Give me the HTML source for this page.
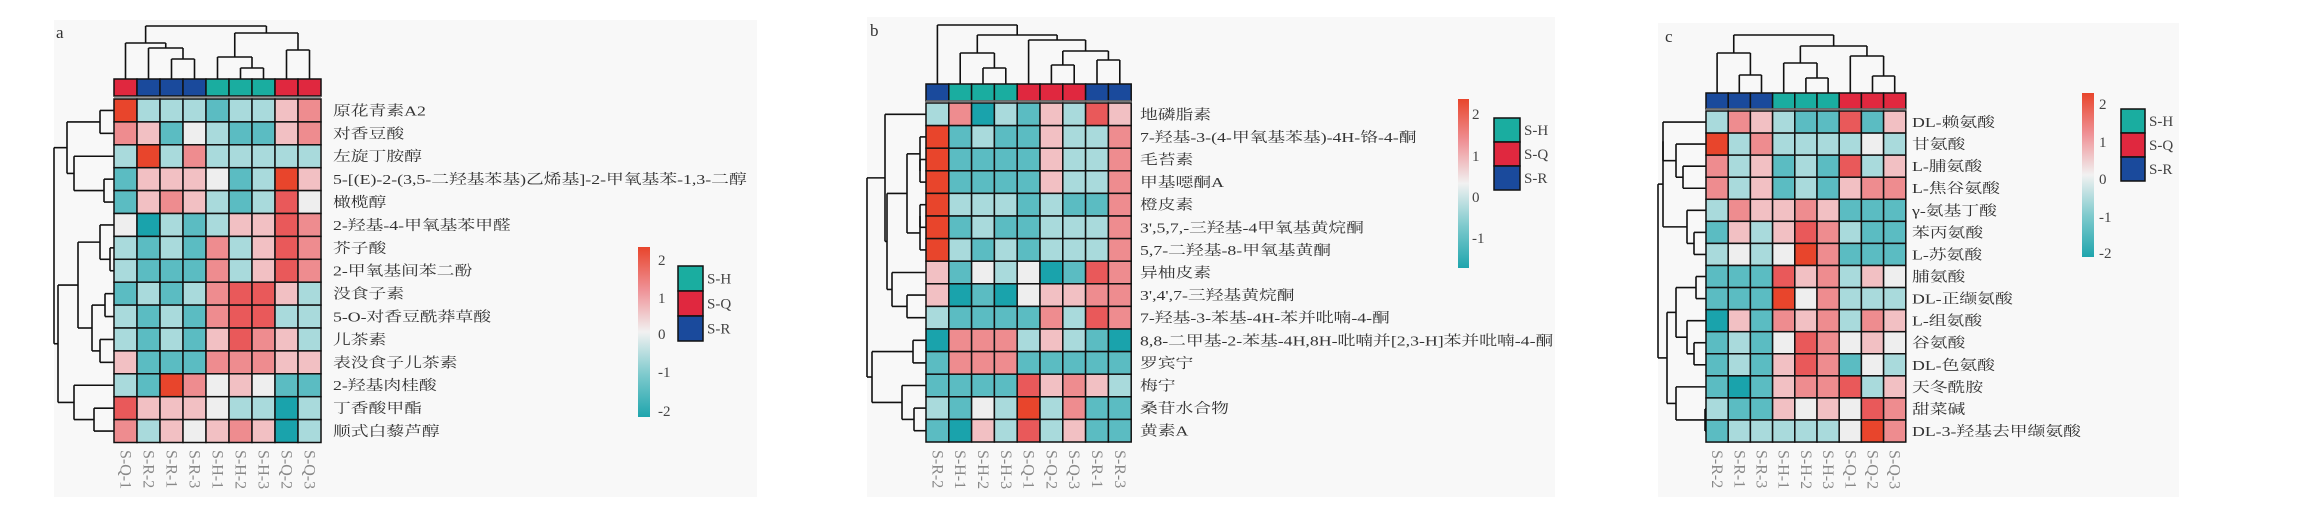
<!DOCTYPE html>
<html><head><meta charset="utf-8"><style>
html,body{margin:0;padding:0;background:#fff;}
svg{display:block;}
text{font-family:"Liberation Serif","Noto Serif CJK SC","Noto Sans CJK SC",serif;}
</style></head><body>
<svg id="s" width="2324" height="519" viewBox="0 0 2324 519" xmlns="http://www.w3.org/2000/svg">
<rect x="0" y="0" width="2324" height="519" fill="#fff"/>
<rect x="54" y="20" width="703" height="477" fill="#f8f8f8"/>
<rect x="867" y="17" width="688" height="480" fill="#f8f8f8"/>
<rect x="1658" y="23" width="521" height="474" fill="#f8f8f8"/>
<text x="56" y="38" font-size="17" fill="#333">a</text>
<text x="870" y="36" font-size="17" fill="#333">b</text>
<text x="1665" y="42" font-size="17" fill="#333">c</text>
</svg>
<script>
var S=document.getElementById('s'),NS='http://www.w3.org/2000/svg';
function el(t,a,txt){var e=document.createElementNS(NS,t);for(var k in a)e.setAttribute(k,a[k]);if(txt!==undefined)e.textContent=txt;S.appendChild(e);return e;}
var C={T2:'#1aa3ac',T1:'#5bbcc2',t:'#a9dadc',w:'#eeeeee',p:'#f2c0c3',P:'#ee8c8f',R:'#e9595a',O:'#e8452c'};
var G={H:'#1aada0',Q:'#e0283f',R:'#1a4a9c'};
function line(x1,y1,x2,y2){el('line',{x1:x1,y1:y1,x2:x2,y2:y2,stroke:'#111','stroke-width':1.6});}
function colDen(n,P){if(typeof n==='number')return [P.gx+P.cw*(n+.5),P.by];var a=colDen(n[1],P),b=colDen(n[2],P),h=n[0];line(a[0],a[1],a[0],h);line(b[0],b[1],b[0],h);line(a[0],h,b[0],h);return [(a[0]+b[0])/2,h];}
function rowDen(n,P){if(typeof n==='number')return [P.gx,P.gy+P.ch*(n+.5)];var a=rowDen(n[1],P),b=rowDen(n[2],P),h=n[0];line(a[0],a[1],h,a[1]);line(b[0],b[1],h,b[1]);line(h,a[1],h,b[1]);return [h,(a[1]+b[1])/2];}
function panel(P){
 for(var i=0;i<9;i++)el('rect',{x:P.gx+P.cw*i,y:P.by,width:P.cw,height:P.bh,fill:G[P.types[i]],stroke:'#111','stroke-width':1.5});
 el('line',{x1:P.gx,y1:P.gy-2,x2:P.gx+P.cw*9,y2:P.gy-2,stroke:'#777','stroke-width':1.5});
 for(var r=0;r<15;r++){var row=P.v[r].split(' ');
  for(var c=0;c<9;c++)el('rect',{x:P.gx+P.cw*c,y:P.gy+P.ch*r,width:P.cw,height:P.ch,fill:C[row[c]],stroke:'#111','stroke-width':1.5});
  el('text',{x:P.lx,y:P.gy+P.ch*(r+.5)+5,'font-size':14,fill:'#333',transform:'translate('+P.lx+' 0) scale(1.27 1) translate('+(-P.lx)+' 0)'},P.labels[r]);}
 for(var c=0;c<9;c++){var x=P.gx+P.cw*(c+.5)-5;el('text',{x:x,y:450,'font-size':16,fill:'#888',transform:'rotate(90 '+x+' 450)'},'S-'+P.types[c]+'-'+P.nums[c]);}
 colDen(P.cd,P);rowDen(P.rd,P);
 var id='g'+P.gx;var d=el('linearGradient',{id:id,x1:0,y1:0,x2:0,y2:1});
 [['0','#e8452c'],['0.25','#ef9196'],['0.5','#f1f1f1'],['0.75','#7ecacd'],['1','#1fa5ad']].forEach(function(s){var st=document.createElementNS(NS,'stop');st.setAttribute('offset',s[0]);st.setAttribute('stop-color',s[1]);d.appendChild(st);});
 el('rect',{x:P.cb[0],y:P.cb[1],width:P.cb[2],height:P.cb[3],fill:'url(#'+id+')'});
 P.ticks.forEach(function(t){el('text',{x:P.tx,y:t[1]+5,'font-size':15,fill:'#444'},t[0]);});
 ['H','Q','R'].forEach(function(k,i){el('rect',{x:P.lg[0],y:P.lg[1]+P.lg[3]*i,width:P.lg[2],height:P.lg[3],fill:G[k],stroke:'#111','stroke-width':1.5});
  el('text',{x:P.lg[0]+P.lg[2]+4,y:P.lg[1]+P.lg[3]*(i+.5)+5,'font-size':15,fill:'#444'},'S-'+k);});
}
panel({gx:114,gy:99,cw:23,ch:22.9,by:79,bh:17,lx:333,types:'QRRRHHHQQ'.split(''),nums:[1,2,1,3,1,2,3,2,3],
 labels:['原花青素A2','对香豆酸','左旋丁胺醇','5-[(E)-2-(3,5-二羟基苯基)乙烯基]-2-甲氧基苯-1,3-二醇','橄榄醇','2-羟基-4-甲氧基苯甲醛','芥子酸','2-甲氧基间苯二酚','没食子素','5-O-对香豆酰莽草酸','儿茶素','表没食子儿茶素','2-羟基肉桂酸','丁香酸甲酯','顺式白藜芦醇'],
 v:['O t t t T1 t t p P','P p T1 w t T1 T1 p P','t O t P t t t t t','T1 p p p w T1 t O p','T1 p P p t T1 t R w','w T2 t T1 t p p R P','t T1 t T1 P t p R P','t T1 T1 T1 P t p R P','T1 t T1 t P R R p t','t T1 t T1 P R R t t','t T1 t T1 p R P p t','p T1 T1 T1 P P P p p','t T1 O P w p w T1 T1','R p p p w t t T2 t','P t p w p P p T2 t'],
 cd:[26,[43,0,[48,1,[59,2,3]]],[33,[57,4,[68,5,6]],[50,7,8]]],
 rd:[54,[67,[100,0,1],[74,2,[104,3,4]]],[58,[78,[100,5,[110,6,7]],[92,[105,8,9],[100,10,11]]],[74,12,[94,13,14]]]],
 cb:[638,247,12,170],tx:658,ticks:[['2',260],['1',298],['0',334],['-1',372],['-2',411]],lg:[678,266,25,25]});
panel({gx:926,gy:103,cw:22.8,ch:22.6,by:84,bh:17,lx:1140,types:'RHHHQQQRR'.split(''),nums:[2,1,2,3,1,2,3,1,3],
 labels:['地磷脂素','7-羟基-3-(4-甲氧基苯基)-4H-铬-4-酮','毛苔素','甲基噁酮A','橙皮素','3\',5,7,-三羟基-4甲氧基黄烷酮','5,7-二羟基-8-甲氧基黄酮','异柚皮素','3\',4\',7-三羟基黄烷酮','7-羟基-3-苯基-4H-苯并吡喃-4-酮','8,8-二甲基-2-苯基-4H,8H-吡喃并[2,3-H]苯并吡喃-4-酮','罗宾宁','梅宁','桑苷水合物','黄素A'],
 v:['t P T2 t T1 p t R p','O T1 t T1 T1 p t t P','O T1 T1 T1 T1 p t t P','O T1 T1 T1 T1 p t t P','O t t t T1 t T1 T1 P','O T1 t T1 T1 t t t P','O t T1 t T1 t t t P','p T1 w t w T2 T1 R P','p T2 T1 T2 w p p P P','t T1 T1 T1 T1 P t R P','T2 P P P t p t T1 T2','T1 P P P T1 T1 T1 T1 T1','T1 T1 T1 T1 R p P p t','t T1 w t O t P T1 T1','T1 T2 p t R t p T1 T1'],
 cd:[25,0,[35,[53,1,[68,2,3]],[40,4,[51,[65,5,6],[60,7,8]]]]],
 rd:[867,[885,0,[887,[907,[920,1,[920,2,3]],[920,[920,4,5],6]],[892,7,[907,8,9]]]],[872,[913,10,11],[902,12,[914,13,14]]]],
 cb:[1458,99,11,169],tx:1472,ticks:[['2',114],['1',156],['0',197],['-1',238]],lg:[1494,118,26,24]});
panel({gx:1706,gy:111,cw:22.2,ch:22.07,by:93,bh:16,lx:1912,types:'RRRHHHQQQ'.split(''),nums:[2,1,3,1,2,3,1,2,3],
 labels:['DL-赖氨酸','甘氨酸','L-脯氨酸','L-焦谷氨酸','γ-氨基丁酸','苯丙氨酸','L-苏氨酸','脯氨酸','DL-正缬氨酸','L-组氨酸','谷氨酸','DL-色氨酸','天冬酰胺','甜菜碱','DL-3-羟基去甲缬氨酸'],
 v:['t P p t T1 T1 R T1 p','O t P t t t t w t','P t p T1 t T1 R t p','P t p T1 t T1 p P P','t P p p P p T1 T1 T1','T1 p t p R P t T1 T1','t w t w O P T1 T1 T1','T1 T1 T1 R p P t p w','T1 T1 T1 O w P t t t','T2 p T1 P p P t P p','T1 t T1 w R P w p w','T1 t T1 p R P T1 w t','T1 T2 T1 p P P R t p','t T1 T1 p w p w R P','T1 t t t t t w O P'],
 cd:[35,[53,0,[75,1,2]],[46,[63,3,[78,4,5]],[56,6,[76,7,8]]]],
 rd:[1658,[1663,[1663,0,[1676,1,[1683,2,3]]],[1687,4,[1694,5,6]]],[1667,[1676,[1696,7,8],[1687,9,[1694,10,11]]],[1676,12,[1705,13,14]]]],
 cb:[2082,93,12,164],tx:2099,ticks:[['2',104],['1',142],['0',179],['-1',217],['-2',253]],lg:[2121,109,24,24]});
</script>
</body></html>
